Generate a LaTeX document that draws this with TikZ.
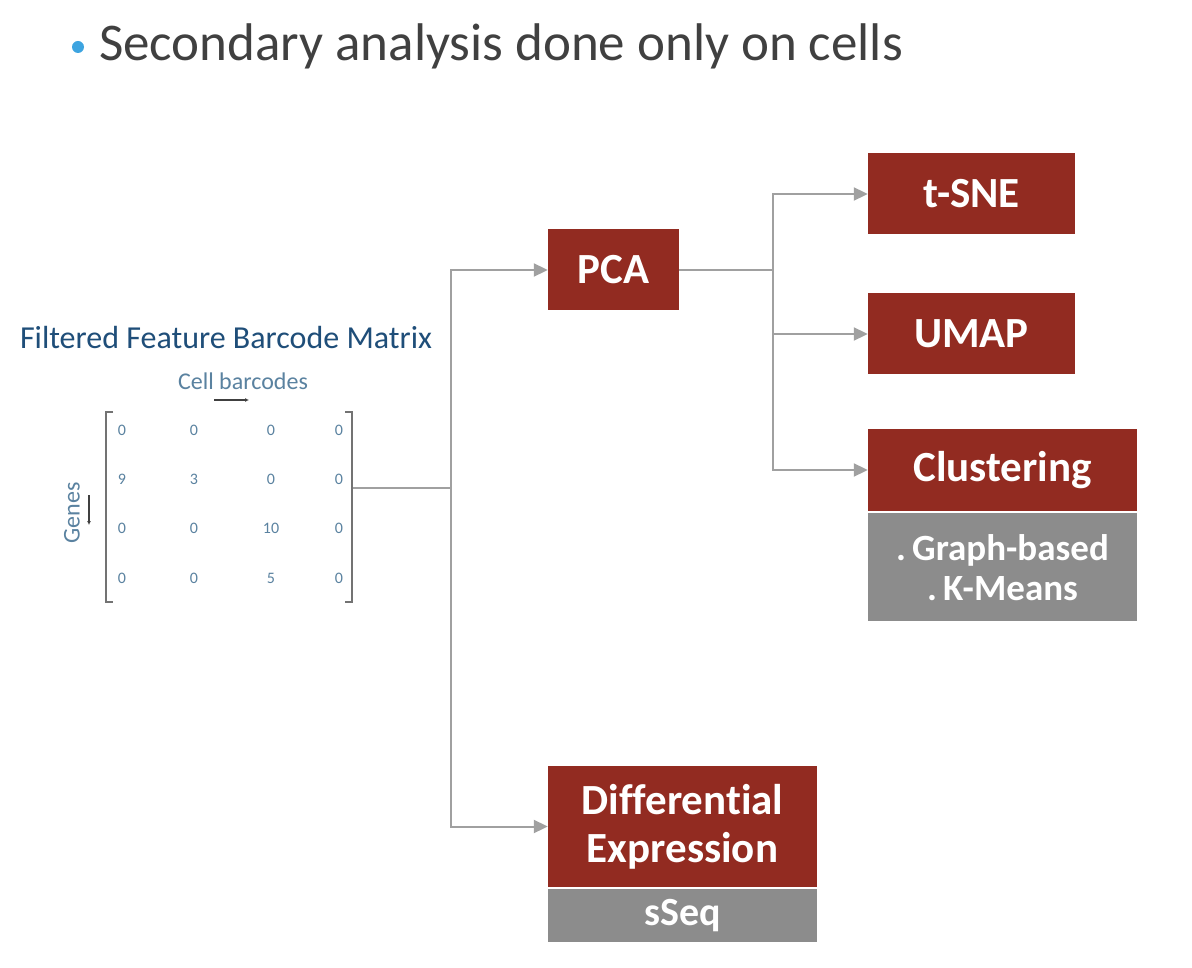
\documentclass[tikz,border=0pt]{standalone}
\usepackage{fontspec}
\setmainfont{Carlito}[Ligatures=NoCommon]
\usetikzlibrary{arrows.meta}
\definecolor{boxred}{RGB}{146,43,33}
\definecolor{boxgray}{RGB}{140,140,140}
\definecolor{linegray}{RGB}{160,160,160}
\definecolor{matblue}{RGB}{90,130,160}
\definecolor{titleblue}{RGB}{31,78,121}
\definecolor{bulletblue}{RGB}{61,164,224}
\definecolor{textdark}{RGB}{64,64,64}
\tikzset{
  redbox/.style={fill=boxred, draw=none, text=white, font=\fontsize{43}{48}\selectfont\bfseries, inner sep=0pt, align=center},
  graybox/.style={fill=boxgray, draw=none, text=white, font=\fontsize{37}{40}\selectfont\bfseries, inner sep=0pt, align=center},
  conn/.style={draw=linegray, line width=2pt},
  arr/.style={conn, -{Triangle[length=14pt,width=13pt]}},
  entry/.style={text=matblue, font=\fontsize{16}{18}\selectfont, inner sep=0pt},
  brk/.style={draw=black!55, line width=2.8pt},
}
\begin{document}
\begin{tikzpicture}[x=1pt,y=-1pt]
\useasboundingbox[fill=white] (0,0) rectangle (1192,968);
% title
\fill[bulletblue] (78,47) circle (6);
\node[anchor=west, text=textdark, font=\fontsize{53}{58}\selectfont, inner sep=0pt] (title) at (99,46) {Secondary analysis done only on cells};
% matrix label
\node[text=titleblue, font=\fontsize{32}{36}\selectfont, inner sep=0pt] (mlabel) at (226,338) {Filtered Feature Barcode Matrix};
\node[text=matblue, font=\fontsize{24}{28}\selectfont, inner sep=0pt] (cb) at (243,381) {Cell barcodes};
\coordinate (cba) at (214,400); \coordinate (cbb) at (249,400);
\draw[draw=black!75, line width=1.4pt, -{Latex[length=4pt,width=4pt]}] (cba) -- (cbb);
\node[text=matblue, font=\fontsize{24}{28}\selectfont, inner sep=0pt, rotate=90] (genes) at (72,513) {Genes};
\coordinate (ga) at (89,495); \coordinate (gb) at (89,525);
\draw[draw=black!75, line width=1.4pt, -{Latex[length=4pt,width=4pt]}] (ga) -- (gb);
% brackets
\draw[brk] (113,412) -- (106,412) -- (106,602) -- (113,602);
\draw[brk] (345,412) -- (352,412) -- (352,602) -- (345,602);
\coordinate (mright) at (353,488);
% entries
\foreach \r/\a/\b/\c/\d [count=\i] in {430/0/0/0/0, 479/9/3/0/0, 528/0/0/10/0, 578/0/0/5/0}{
  \node[entry] (e\i a) at (122,\r) {\a};
  \node[entry] (e\i b) at (194,\r) {\b};
  \node[entry] (e\i c) at (271,\r) {\c};
  \node[entry] (e\i d) at (339,\r) {\d};
}
% boxes
\node[redbox, minimum width=131pt, minimum height=81pt] (pca) at (613.5,270) {PCA};
\node[redbox, minimum width=207pt, minimum height=81pt] (tsne) at (971.5,194) {t-SNE};
\node[redbox, minimum width=207pt, minimum height=81pt] (umap) at (971.5,334) {UMAP};
\node[redbox, minimum width=269pt, minimum height=82pt] (clus) at (1002.5,470) {Clustering};
\node[graybox, minimum width=269pt, minimum height=108pt, anchor=north] (clusg) at ([yshift=-2pt]clus.south) {.\,Graph-based\\.\,K-Means};
\node[redbox, minimum width=269pt, minimum height=121pt] (de) at (682.5,826.5) {Differential\\Expression};
\node[graybox, minimum width=269pt, minimum height=53pt, anchor=north, font=\fontsize{40}{44}\selectfont\bfseries] (deg) at ([yshift=-2pt]de.south) {sSeq};
% connectors
\coordinate (j1) at (451,488);
\coordinate (j2) at (773,270);
\draw[conn] (mright) -- (j1);
\draw[arr] (j1) |- (pca.west);
\draw[arr] (j1) |- (de.west);
\draw[conn] (pca.east) -- (j2);
\draw[arr] (j2) |- (tsne.west);
\draw[arr] (j2) |- (umap.west);
\draw[arr] (j2) |- (clus.west);
\end{tikzpicture}
\end{document}
